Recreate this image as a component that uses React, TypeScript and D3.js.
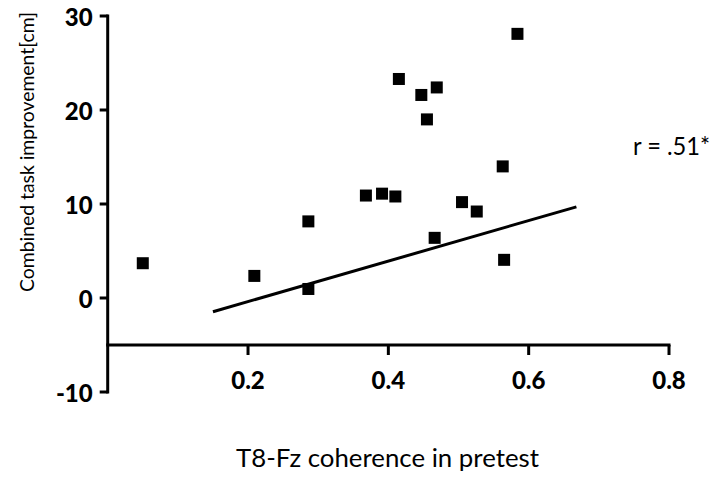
import React from "react";
import * as d3 from "d3";

const xValues = [0.05, 0.209, 0.286, 0.286, 0.368, 0.391, 0.41, 0.415, 0.447, 0.469, 0.455, 0.584, 0.563, 0.505, 0.526, 0.466, 0.565];
const yValues = [3.7, 2.35, 8.15, 0.96, 10.9, 11.1, 10.8, 23.3, 21.6, 22.4, 19.0, 28.1, 14.0, 10.2, 9.2, 6.4, 4.06];
const fitLine = [
  { x: 0.15, y: -1.46 },
  { x: 0.668, y: 9.7 },
];
const xTicks = [0.2, 0.4, 0.6, 0.8];
const yTicks = [-10, 0, 10, 20, 30];
const xTickLabels = ["0.2", "0.4", "0.6", "0.8"];
const yTickLabels = ["-10", "0", "10", "20", "30"];

export default function App() {
  const width = 716;
  const height = 481;
  const x = d3.scaleLinear().domain([0, 0.8]).range([107.7, 669]);
  const y = d3.scaleLinear().domain([-10, 30]).range([392, 16]);
  const font = "Lato, 'Open Sans', sans-serif";
  const line = d3
    .line<{ x: number; y: number }>()
    .x((d) => x(d.x))
    .y((d) => y(d.y));
  const sq = 12;
  return (
    <svg
      width={width}
      height={height}
      style={{ position: "absolute", left: 0, top: 0, background: "#fff" }}
    >
      {/* y axis */}
      <line x1={x(0)} x2={x(0)} y1={y(-10) + 1.5} y2={y(30) - 1.5} stroke="#000" strokeWidth={3} />
      {yTicks.map((t, i) => (
        <g key={"yt" + i}>
          <line x1={x(0) - 8} x2={x(0)} y1={y(t)} y2={y(t)} stroke="#000" strokeWidth={3} />
          <text
            x={x(0) - 15}
            y={y(t)}
            textAnchor="end"
            dominantBaseline="central"
            fontFamily={font}
            fontWeight="900"
            fontSize={24}
          >
            {yTickLabels[i]}
          </text>
        </g>
      ))}
      {/* x axis at y=-5 */}
      <line x1={x(0) - 1.5} x2={x(0.8) + 1.5} y1={y(-5)} y2={y(-5)} stroke="#000" strokeWidth={3} />
      {xTicks.map((t, i) => (
        <g key={"xt" + i}>
          <line x1={x(t)} x2={x(t)} y1={y(-5)} y2={y(-5) + 10} stroke="#000" strokeWidth={3} />
          <text
            x={x(t)}
            y={y(-5) + 34}
            textAnchor="middle"
            dominantBaseline="central"
            fontFamily={font}
            fontWeight="900"
            fontSize={24}
          >
            {xTickLabels[i]}
          </text>
        </g>
      ))}
      {/* regression line */}
      <path d={line(fitLine) || ""} stroke="#000" strokeWidth={3} fill="none" />
      {/* points */}
      {xValues.map((v, i) => (
        <rect
          key={"p" + i}
          x={x(v) - sq / 2}
          y={y(yValues[i]) - sq / 2}
          width={sq}
          height={sq}
          fill="#000"
        />
      ))}
      <text x={633} y={155} fontFamily={font} fontSize={25} textLength={77} lengthAdjust="spacingAndGlyphs">
        r = .51*
      </text>
      <text x={236} y={467} fontFamily={font} fontSize={25} textLength={303} lengthAdjust="spacingAndGlyphs">
        T8-Fz coherence in pretest
      </text>
      <text
        transform={`translate(34, 152) rotate(-90)`}
        textAnchor="middle"
        fontFamily={font}
        fontSize={19.5}
        textLength={280}
        lengthAdjust="spacingAndGlyphs"
      >
        Combined task improvement[cm]
      </text>
    </svg>
  );
}
